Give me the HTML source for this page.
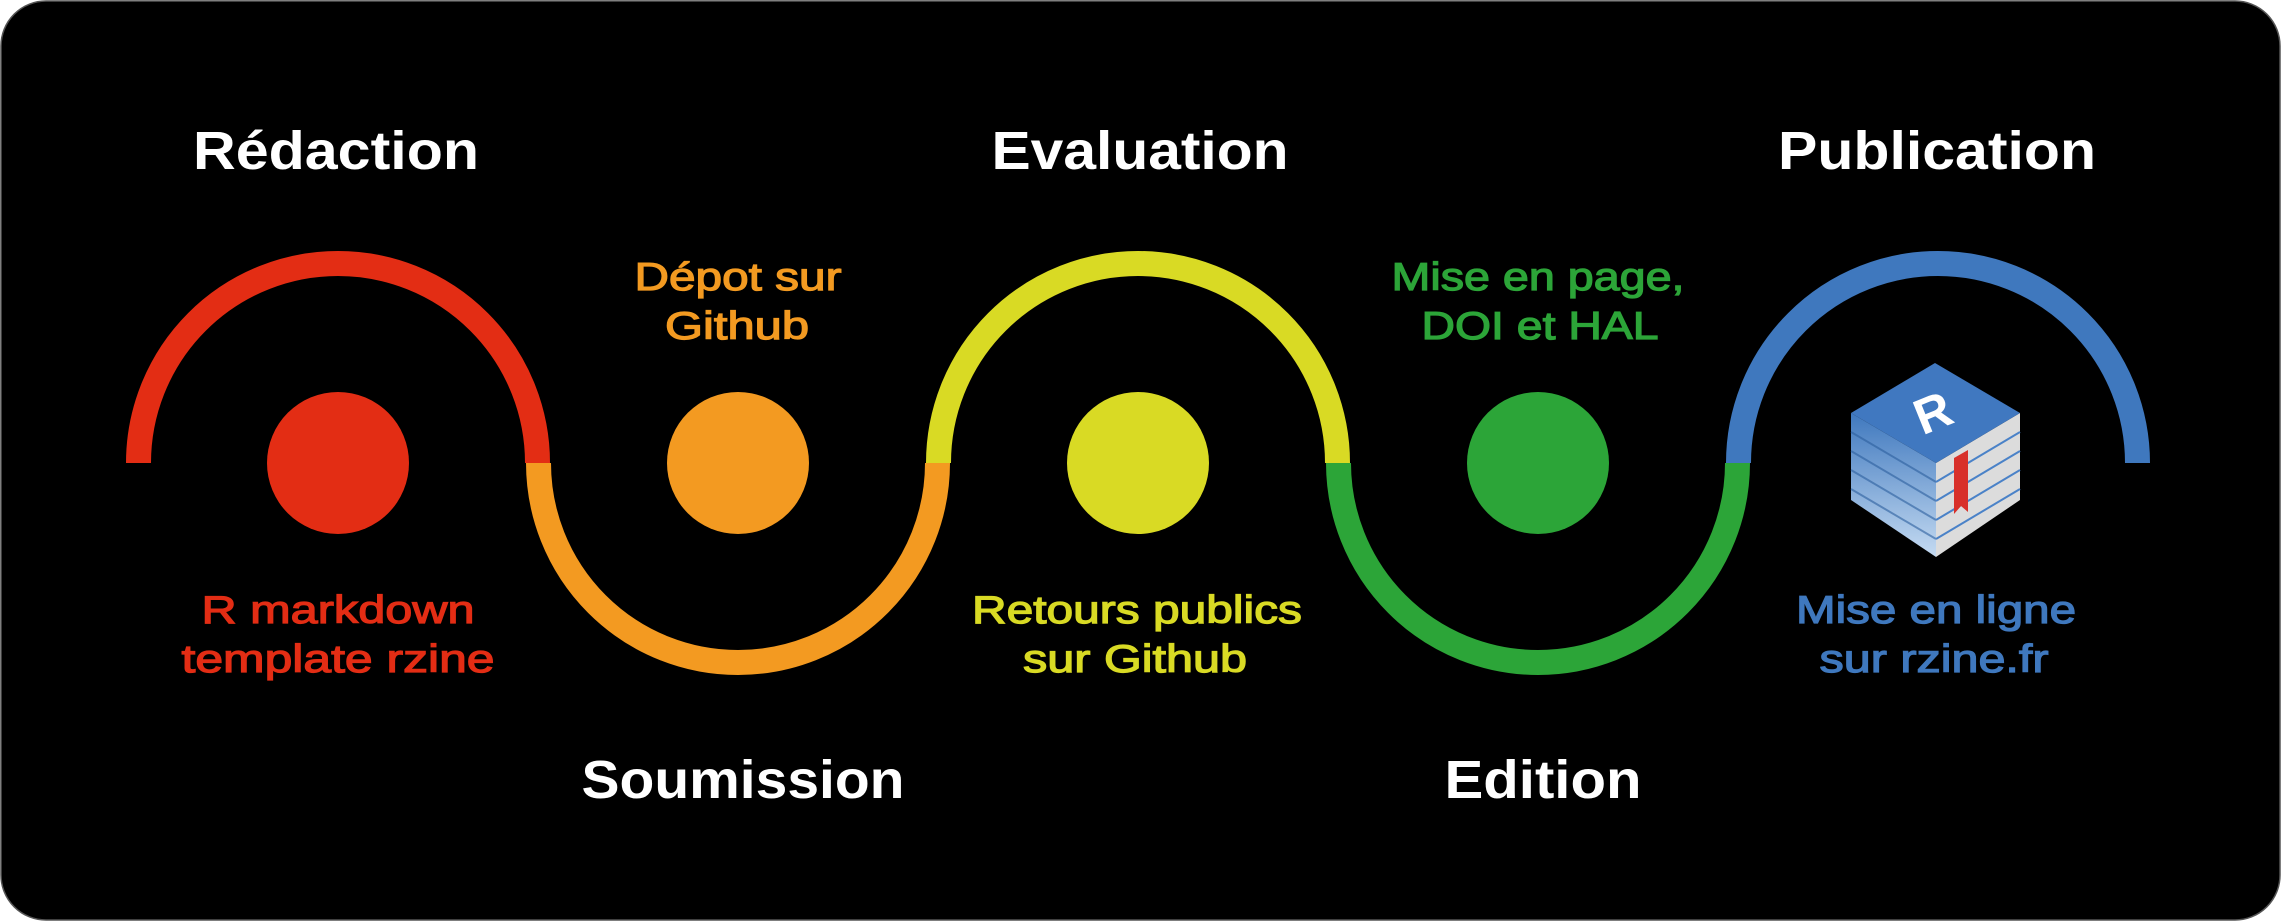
<!DOCTYPE html>
<html><head><meta charset="utf-8"><style>
html,body{margin:0;padding:0;background:#fff;}
svg{display:block;}
</style></head><body>
<svg width="2281" height="921" viewBox="0 0 2281 921" xmlns="http://www.w3.org/2000/svg">
<defs>
<linearGradient id="lf" x1="0" y1="0" x2="0" y2="1">
<stop offset="0" stop-color="#3f78be"/><stop offset="1" stop-color="#c5dbf2"/>
</linearGradient>
</defs>
<rect x="1" y="1" width="2279" height="919" rx="45" ry="45" fill="#000" stroke="#555" stroke-width="1.5"/>
<g fill="none" stroke-width="25">
<path d="M138.5 463 A199.5 199.5 0 0 1 537.5 463" stroke="#e32d14"/>
<path d="M538.5 463 A199.5 199.5 0 0 0 937.5 463" stroke="#f39a21"/>
<path d="M938.5 463 A199.5 199.5 0 0 1 1337.5 463" stroke="#d9da24"/>
<path d="M1338.5 463 A199.5 199.5 0 0 0 1737.5 463" stroke="#2ca538"/>
<path d="M1738.5 463 A199.5 199.5 0 0 1 2137.5 463" stroke="#3f78be"/>
</g>
<circle cx="338" cy="463" r="71" fill="#e32d14"/>
<circle cx="738" cy="463" r="71" fill="#f39a21"/>
<circle cx="1138" cy="463" r="71" fill="#d9da24"/>
<circle cx="1538" cy="463" r="71" fill="#2ca538"/>
<!-- book -->
<polygon points="1851,413 1936,463 1936,557 1851,500" fill="url(#lf)"/>
<g stroke="#2c5f9e" stroke-width="2" opacity="0.6">
<line x1="1851" y1="432" x2="1936" y2="482"/><line x1="1851" y1="451" x2="1936" y2="501"/>
<line x1="1851" y1="470" x2="1936" y2="520"/><line x1="1851" y1="489" x2="1936" y2="539"/>
</g>
<polygon points="2020,413 1936,463 1936,557 2020,500" fill="#dcdcdc"/>
<g stroke="#4a82c8" stroke-width="2">
<line x1="2020" y1="432" x2="1936" y2="482"/><line x1="2020" y1="451" x2="1936" y2="501"/>
<line x1="2020" y1="470" x2="1936" y2="520"/><line x1="2020" y1="489" x2="1936" y2="539"/>
</g>
<polygon points="1935,363 2020,413 1936,463 1851,413" fill="#4078c0"/>
<polygon points="1954,458 1968,450 1968,512 1961,506 1954,514" fill="#d8302a"/>
<g transform="translate(1933 413) rotate(-22)">
<text x="0" y="17" text-anchor="middle" font-family="Liberation Sans, sans-serif" font-weight="bold" font-size="50" fill="#fff">R</text>
</g>
<g font-family="Liberation Sans, sans-serif" font-weight="bold" fill="#fff" font-size="54" text-anchor="middle">
<text x="336" y="169" textLength="286" lengthAdjust="spacingAndGlyphs">Rédaction</text>
<text x="1140" y="169" textLength="297" lengthAdjust="spacingAndGlyphs">Evaluation</text>
<text x="1937" y="169" textLength="318" lengthAdjust="spacingAndGlyphs">Publication</text>
<text x="743" y="798" textLength="323" lengthAdjust="spacingAndGlyphs">Soumission</text>
<text x="1543" y="798" textLength="197" lengthAdjust="spacingAndGlyphs">Edition</text>
</g>
<g font-family="Liberation Sans, sans-serif" font-size="39" text-anchor="middle" stroke-width="1.2">
<text x="738" y="290" fill="#f39a21" stroke="#f39a21" textLength="207" lengthAdjust="spacingAndGlyphs">Dépot sur</text>
<text x="737" y="339" fill="#f39a21" stroke="#f39a21" textLength="144" lengthAdjust="spacingAndGlyphs">Github</text>
<text x="338" y="623" fill="#e32d14" stroke="#e32d14" textLength="273" lengthAdjust="spacingAndGlyphs">R markdown</text>
<text x="338" y="672" fill="#e32d14" stroke="#e32d14" textLength="313" lengthAdjust="spacingAndGlyphs">template rzine</text>
<text x="1137" y="623" fill="#d9da24" stroke="#d9da24" textLength="330" lengthAdjust="spacingAndGlyphs">Retours publics</text>
<text x="1135" y="672" fill="#d9da24" stroke="#d9da24" textLength="224" lengthAdjust="spacingAndGlyphs">sur Github</text>
<text x="1538" y="290" fill="#2ca538" stroke="#2ca538" textLength="293" lengthAdjust="spacingAndGlyphs">Mise en page,</text>
<text x="1540" y="339" fill="#2ca538" stroke="#2ca538" textLength="237" lengthAdjust="spacingAndGlyphs">DOI et HAL</text>
<text x="1936" y="623" fill="#3f78be" stroke="#3f78be" textLength="280" lengthAdjust="spacingAndGlyphs">Mise en ligne</text>
<text x="1934" y="672" fill="#3f78be" stroke="#3f78be" textLength="229" lengthAdjust="spacingAndGlyphs">sur rzine.fr</text>
</g>
</svg>
</body></html>
